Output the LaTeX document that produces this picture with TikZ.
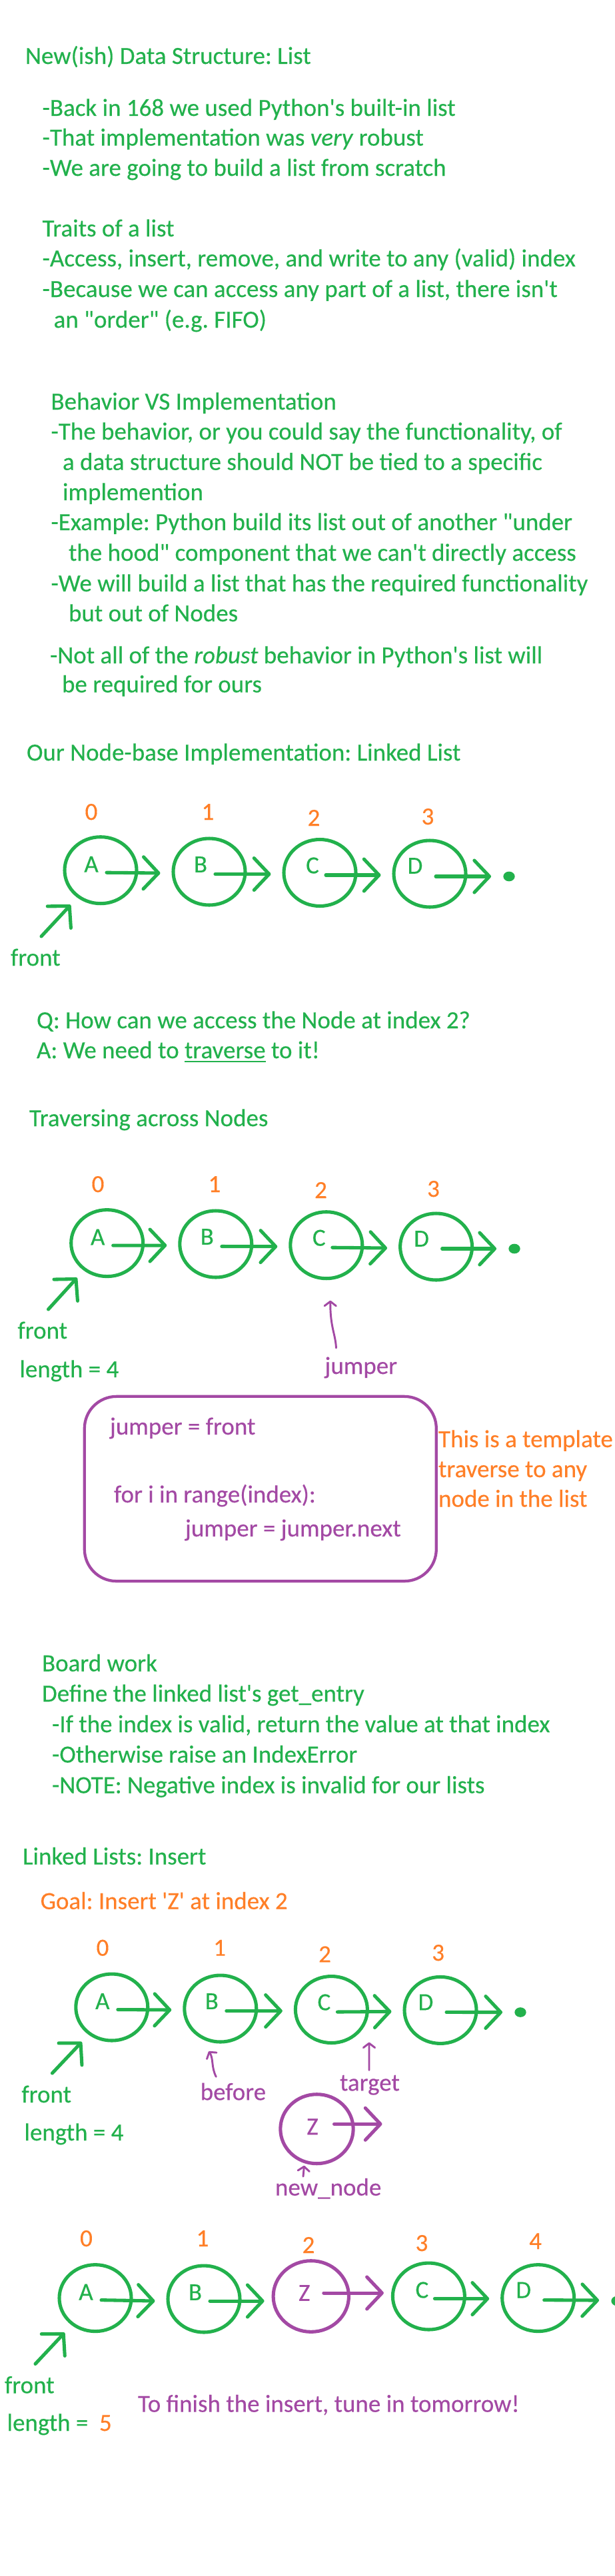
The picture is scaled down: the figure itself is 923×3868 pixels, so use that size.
\documentclass[tikz,border=0pt]{standalone}
\usepackage{fontspec}
\setmainfont{Carlito}[Ligatures=TeXOff,FakeBold=0.3]
\usetikzlibrary{shapes.geometric,arrows.meta}
\definecolor{grn}{RGB}{34,177,76}
\definecolor{org}{RGB}{255,127,39}
\definecolor{pur}{RGB}{163,73,164}
\frenchspacing
\newcommand{\myuline}[1]{{\setbox0\hbox{#1}\rlap{\rule[-4.3pt]{\wd0}{1.3pt}}\box0}}
\tikzset{
 txt/.style={anchor=base west, inner sep=0pt, outer sep=0pt, text=grn},
 ptxt/.style={txt, text=pur},
 otxt/.style={txt, text=org},
 idx/.style={anchor=base, inner sep=0pt, text=org},
 lnode/.style={ellipse, draw=grn, line width=3.8pt, minimum width=81pt, minimum height=75pt, inner sep=0pt},
 znode/.style={lnode, draw=pur, minimum width=82pt, minimum height=78pt},
 letter/.style={inner sep=0pt, text=grn},
 pletter/.style={inner sep=0pt, text=pur},
 link/.style={draw=grn, line width=3.8pt, line cap=round, -{Straight Barb[length=17pt,width=36pt,round]}},
 plink/.style={link, draw=pur},
 ptr/.style={draw=pur, line width=2.2pt, line cap=round, -{Straight Barb[length=5pt,width=13pt,round]}},
 nulldot/.style={ellipse, fill=grn, minimum width=13pt, minimum height=11pt, inner sep=0pt},
 tbox/.style={draw=pur, line width=3.2pt, rounded corners=36pt, minimum width=396pt, minimum height=208pt, inner sep=0pt},
}
\begin{document}
\begin{tikzpicture}[x=0.75pt,y=-0.75pt,font=\fontsize{27.75pt}{34pt}\selectfont]
\useasboundingbox[fill=white] (0,0) rectangle (923,3868);

% ---------- Section 1
\node[txt] (t1) at (38,96) {New(ish) Data Structure: List};
\node[txt] (t2) at (63.6,174) {-Back in 168 we used Python's built-in list};
\node[txt] (t3) at (63.6,218.6) {-That implementation was \textit{very} robust};
\node[txt] (t4) at (63.6,264) {-We are going to build a list from scratch};
\node[txt] (t5) at (63.6,355) {Traits of a list};
\node[txt] (t6) at (63.6,400) {-Access, insert, remove, and write to any (valid) index};
\node[txt] (t7) at (63.6,446) {-Because we can access any part of a list, there isn't};
\node[txt] (t8) at (80.6,492) {an "order" (e.g. FIFO)};

% ---------- Section 2
\node[txt] (b1) at (76.5,615) {Behavior VS Implementation};
\node[txt] (b2) at (76.5,660) {-The behavior, or you could say the functionality, of};
\node[txt] (b3) at (94,705.7) {a data structure should NOT be tied to a specific};
\node[txt] (b4) at (94,751) {implemention};
\node[txt] (b5) at (76.5,796) {-Example: Python build its list out of another "under};
\node[txt] (b6) at (103,842) {the hood" component that we can't directly access};
\node[txt] (b7) at (76.5,888) {-We will build a list that has the required functionality};
\node[txt] (b8) at (103,933) {but out of Nodes};
\node[txt] (b9) at (75,996) {-Not all of the \textit{robust} behavior in Python's list will};
\node[txt] (b10) at (93,1039.6) {be required for ours};

% ---------- Linked list 1
\node[txt] (h3) at (40,1142) {Our Node-base Implementation: Linked List};
\node[idx] (i10) at (137,1231) {0};
\node[idx] (i11) at (312,1231) {1};
\node[idx] (i12) at (471,1240) {2};
\node[idx] (i13) at (642,1238) {3};
\node[lnode] (A1) at (151,1306.7) {};
\node[lnode] (B1) at (314,1309) {};
\node[lnode] (C1) at (480,1310.5) {};
\node[lnode] (D1) at (645,1312) {};
\node[nulldot] (N1) at (764,1316) {};
\node[letter] (A1l) at ([shift={(-14,-9)}]A1.center) {A};
\node[letter] (B1l) at ([shift={(-13,-11)}]B1.center) {B};
\node[letter] (C1l) at ([shift={(-11,-11)}]C1.center) {C};
\node[letter] (D1l) at ([shift={(-22,-12)}]D1.center) {D};
\draw[link] ([shift={(9,3.5)}]A1.center) -- ([shift={(-17,2)}]B1.west);
\draw[link] ([shift={(9,3.5)}]B1.center) -- ([shift={(-17,2)}]C1.west);
\draw[link] ([shift={(9,3.5)}]C1.center) -- ([shift={(-17,2)}]D1.west);
\draw[link] ([shift={(9,4)}]D1.center) -- ([shift={(-18,0)}]N1.west);
\node[txt] (f1) at (16,1450) {front};
\draw[link] ([shift={(46,-44)}]f1.base west) -- ([shift={(-45,52)}]A1.center);

\node[txt] (q1) at (55,1544) {Q: How can we access the Node at index 2?};
\node[txt] (a1) at (55,1589) {A: We need to \myuline{traverse} to it!};

% ---------- Linked list 2 (traversing)
\node[txt] (h4) at (44,1691) {Traversing across Nodes};
\node[idx] (i20) at (147,1790) {0};
\node[idx] (i21) at (322,1790) {1};
\node[idx] (i22) at (481.5,1799) {2};
\node[idx] (i23) at (650.5,1797) {3};
\node[lnode] (A2) at (160.7,1866.6) {};
\node[lnode] (B2) at (323.8,1868) {};
\node[lnode] (C2) at (489.8,1869.7) {};
\node[lnode] (D2) at (654.6,1872) {};
\node[nulldot] (N2) at (772,1875) {};
\node[letter] (A2l) at ([shift={(-14,-9)}]A2.center) {A};
\node[letter] (B2l) at ([shift={(-13,-11)}]B2.center) {B};
\node[letter] (C2l) at ([shift={(-11,-11)}]C2.center) {C};
\node[letter] (D2l) at ([shift={(-22,-12)}]D2.center) {D};
\draw[link] ([shift={(9,3.5)}]A2.center) -- ([shift={(-17,2)}]B2.west);
\draw[link] ([shift={(9,3.5)}]B2.center) -- ([shift={(-17,2)}]C2.west);
\draw[link] ([shift={(9,3.5)}]C2.center) -- ([shift={(-17,2)}]D2.west);
\draw[link] ([shift={(9,3)}]D2.center) -- ([shift={(-18,0)}]N2.west);
\node[txt] (f2) at (26.5,2010) {front};
\draw[link] ([shift={(46,-44)}]f2.base west) -- ([shift={(-45,52)}]A2.center);
\node[txt] (len2) at (29.4,2068) {length = 4};
\node[ptxt] (jmp) at (487.5,2063) {jumper};
\draw[ptr] ([shift={(17,-39)}]jmp.base west) .. controls ([shift={(16,-60)}]jmp.base west) and ([shift={(8,-70)}]jmp.base west) .. ([shift={(6,83)}]C2.center);

\node[tbox] (tmpl) at (390.8,2235.5) {};
\node[ptxt] (k1) at (165,2154) {jumper = front};
\node[ptxt] (k2) at (171,2256) {for i in range(index):};
\node[ptxt] (k3) at (278,2307) {jumper = jumper.next};
\node[otxt] (o1) at (658,2173) {This is a template};
\node[otxt] (o2) at (658,2218) {traverse to any};
\node[otxt] (o3) at (658,2262.5) {node in the list};

% ---------- Board work
\node[txt] (w1) at (63,2509.5) {Board work};
\node[txt] (w2) at (63,2555) {Define the linked list's get\_entry};
\node[txt] (w3) at (78,2601) {-If the index is valid, return the value at that index};
\node[txt] (w4) at (78,2646.5) {-Otherwise raise an IndexError};
\node[txt] (w5) at (78,2692.5) {-NOTE: Negative index is invalid for our lists};

% ---------- Insert
\node[txt] (h5) at (34,2799.6) {Linked Lists: Insert};
\node[otxt] (goal) at (60.6,2866.6) {Goal: Insert 'Z' at index 2};
\node[idx] (i30) at (154,2936.6) {0};
\node[idx] (i31) at (329.7,2936.6) {1};
\node[idx] (i32) at (487.5,2946.4) {2};
\node[idx] (i33) at (657.6,2944) {3};
\node[lnode] (A3) at (167.8,3014) {};
\node[lnode] (B3) at (330.8,3016) {};
\node[lnode] (C3) at (497.4,3017.5) {};
\node[lnode] (D3) at (661,3018.4) {};
\node[nulldot] (N3) at (781,3021.5) {};
\node[letter] (A3l) at ([shift={(-14,-9)}]A3.center) {A};
\node[letter] (B3l) at ([shift={(-13,-11)}]B3.center) {B};
\node[letter] (C3l) at ([shift={(-11,-11)}]C3.center) {C};
\node[letter] (D3l) at ([shift={(-22,-12)}]D3.center) {D};
\draw[link] ([shift={(9,3.5)}]A3.center) -- ([shift={(-17,2)}]B3.west);
\draw[link] ([shift={(9,3.5)}]B3.center) -- ([shift={(-17,2)}]C3.west);
\draw[link] ([shift={(9,3.5)}]C3.center) -- ([shift={(-17,2)}]D3.west);
\draw[link] ([shift={(9,3)}]D3.center) -- ([shift={(-18,0)}]N3.west);
\node[txt] (f3) at (32.4,3157) {front};
\draw[link] ([shift={(46,-44)}]f3.base west) -- ([shift={(-45,52)}]A3.center);
\node[txt] (len3) at (36.5,3214) {length = 4};

\node[ptxt] (bef) at (300.7,3153.3) {before};
\draw[ptr] ([shift={(23.6,-35)}]bef.base west) .. controls ([shift={(16,-50)}]bef.base west) and ([shift={(20,-62)}]bef.base west) .. ([shift={(-17.5,64)}]B3.center);
\node[ptxt] (tgt) at (510,3139.3) {target};
\draw[ptr] ([shift={(44,-31)}]tgt.base west) -- ([shift={(56.6,49)}]C3.center);

\node[znode] (Z3) at (475.5,3196.7) {};
\node[pletter] (Z3l) at ([shift={(-6.5,-3.4)}]Z3.center) {Z};
\draw[plink] ([shift={(26,-7.4)}]Z3.center) -- ([shift={(98,-7.4)}]Z3.center);
\node[ptxt] (nn) at (413,3296.6) {new\_node};
\draw[ptr] ([shift={(42,-28.6)}]nn.base west) -- ([shift={(-19,55)}]Z3.center);

% ---------- Linked list 4 (after insert)
\node[idx] (i40) at (129.5,3373) {0};
\node[idx] (i41) at (304,3373) {1};
\node[idx] (i42) at (463,3383) {2};
\node[idx] (i43) at (633,3380) {3};
\node[idx] (i44) at (803.6,3377) {4};
\node[lnode] (A4) at (143,3450.6) {};
\node[lnode] (B4) at (306,3452) {};
\node[znode, minimum width=85pt, minimum height=80pt] (Z4) at (466.8,3448) {};
\node[lnode] (C4) at (643.4,3448) {};
\node[lnode] (D4) at (807.7,3450.6) {};
\node[nulldot] (N4) at (926,3455) {};
\node[letter] (A4l) at ([shift={(-14,-9)}]A4.center) {A};
\node[letter] (B4l) at ([shift={(-13,-10)}]B4.center) {B};
\node[pletter] (Z4l) at ([shift={(-10,-5)}]Z4.center) {Z};
\node[letter] (C4l) at ([shift={(-10,-9.5)}]C4.center) {C};
\node[letter] (D4l) at ([shift={(-22,-12)}]D4.center) {D};
\draw[link] ([shift={(9,3)}]A4.center) -- ([shift={(-17,3)}]B4.west);
\draw[link] ([shift={(9,3)}]B4.center) -- ([shift={(-11,7)}]Z4.west);
\draw[plink] ([shift={(19,-5)}]Z4.center) -- ([shift={(-11,-5)}]C4.west);
\draw[link] ([shift={(9,3.5)}]C4.center) -- ([shift={(-17,1)}]D4.west);
\draw[link] ([shift={(9,3)}]D4.center) -- ([shift={(-18,-1)}]N4.west);
\node[txt] (f4) at (7,3593.5) {front};
\draw[link] ([shift={(46,-44)}]f4.base west) -- ([shift={(-46,52)}]A4.center);
\node[txt] (len4) at (10.6,3650) {length =};
\node[otxt] (len4v) at (149,3650) {5};
\node[ptxt] (fin) at (207,3621.6) {To finish the insert, tune in tomorrow!};
\end{tikzpicture}
\end{document}
